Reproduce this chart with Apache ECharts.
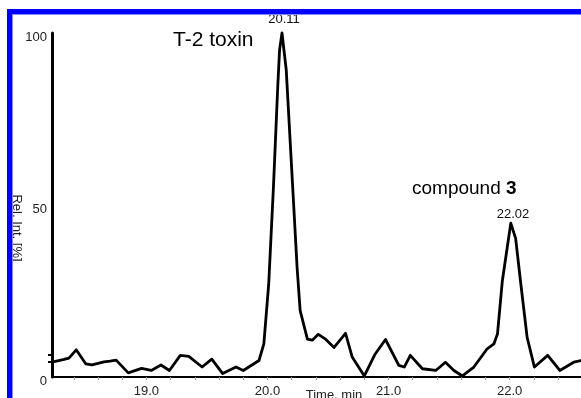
<!DOCTYPE html>
<html>
<head>
<meta charset="utf-8">
<script src="https://cdn.jsdelivr.net/npm/echarts@6/dist/echarts.min.js"></script>
<style>
html,body{margin:0;padding:0;background:#fff;}
#chart{width:581px;height:398px;}
</style>
</head>
<body>
<div id="chart"></div>
<script>
// Retention time (min)
var times = [18.22, 18.32, 18.36, 18.42, 18.50, 18.55, 18.65, 18.70, 18.75, 18.85,
  18.96, 19.04, 19.12, 19.19, 19.28, 19.35, 19.46, 19.54, 19.63, 19.74,
  19.80, 19.93, 19.97, 20.01, 20.05, 20.085, 20.10, 20.12, 20.155, 20.20,
  20.245, 20.27, 20.33, 20.37, 20.42, 20.48, 20.55, 20.645, 20.70, 20.80,
  20.89, 20.975, 21.085, 21.13, 21.18, 21.28, 21.39, 21.47, 21.54, 21.61,
  21.705, 21.815, 21.87, 21.90, 21.94, 21.98, 22.01, 22.05, 22.09, 22.145,
  22.205, 22.315, 22.415, 22.53, 22.59];
// Relative intensity (%)
var intensity = [4.3, 5.1, 5.5, 7.9, 3.8, 3.5, 4.4, 4.6, 4.9, 1.2,
  2.5, 1.9, 3.5, 1.9, 6.3, 6.0, 2.9, 5.2, 1.0, 2.9,
  1.9, 4.8, 9.6, 26.9, 55.7, 84.5, 95.1, 100, 89.3, 60.5,
  31.7, 19.3, 11.0, 10.7, 12.4, 11.0, 8.6, 12.7, 5.8, 0.3,
  6.7, 10.9, 3.4, 2.9, 6.3, 2.4, 1.9, 4.3, 1.9, 0.3,
  2.9, 8.2, 9.6, 12.5, 27.9, 37.5, 44.7, 40.3, 27.9, 11.5,
  2.9, 6.3, 1.9, 4.3, 4.8];
var xLabelValues = [19, 20, 21, 22];
var xTickValues = [18.4, 18.6, 18.8, 19.0, 19.2, 19.4, 19.6, 19.8, 20.0, 20.2, 20.4, 20.6, 20.8, 21.0, 21.2, 21.4, 21.6, 21.8, 22.0, 22.2, 22.4];
var yLabelValues = [0, 50, 100];
var yTickValues = [4.5, 6.6];
var peakLabels = ['20.11', '22.02'];
var compoundNames = ['T-2 toxin', 'compound ', '3'];

var chart = echarts.init(document.getElementById('chart'), null, {renderer: 'canvas'});
var FONT = '"Liberation Sans", Arial, sans-serif';

var option = {
  animation: false,
  backgroundColor: '#fff',
  grid: {left: 52, right: 0, top: 33, bottom: 18, containLabel: false},
  xAxis: {
    type: 'value', min: 18.22, max: 22.59,
    splitLine: {show: false},
    axisLine: {show: true, onZero: false, lineStyle: {color: '#000', width: 2}},
    axisTick: {show: true, inside: false, length: 3, customValues: xTickValues, lineStyle: {color: '#999', width: 1}},
    axisLabel: {customValues: xLabelValues, margin: 8, color: '#222', fontSize: 13, fontFamily: FONT,
      formatter: function (v) { return v.toFixed(1); }}
  },
  yAxis: {
    type: 'value', min: 0, max: 100,
    splitLine: {show: false},
    axisLine: {show: true, onZero: false, lineStyle: {color: '#000', width: 3}},
    axisTick: {show: true, length: 4, customValues: yTickValues, lineStyle: {color: '#000', width: 2}},
    axisLabel: {customValues: yLabelValues, margin: 5, color: '#222', fontSize: 13, fontFamily: FONT,
      verticalAlign: 'top', lineHeight: 8}
  },
  series: [{
    type: 'line',
    data: times.map(function (t, i) { return [t, intensity[i]]; }),
    showSymbol: false,
    clip: false,
    lineStyle: {color: '#000', width: 2.8, join: 'round', cap: 'round'},
    z: 3
  }],
  graphic: [
    {type: 'text', left: 173, top: 30, style: {text: compoundNames[0], font: '21px ' + FONT, fill: '#000'}},
    {type: 'text', left: 412, top: 179, style: {rich: {n: {fontSize: 19, fontFamily: FONT}, b: {fontSize: 19, fontFamily: FONT, fontWeight: 'bold'}},
      text: '{n|' + compoundNames[1] + '}{b|' + compoundNames[2] + '}', fill: '#000'}},
    {type: 'text', x: 284, y: 19, style: {text: peakLabels[0], font: '13px ' + FONT, fill: '#111', align: 'center', verticalAlign: 'middle'}},
    {type: 'text', x: 513, y: 214, style: {text: peakLabels[1], font: '13px ' + FONT, fill: '#111', align: 'center', verticalAlign: 'middle'}},
    {type: 'text', x: 16.5, y: 228, rotation: -Math.PI / 2, style: {text: 'Rel. Int. [%]', font: '13px ' + FONT, fill: '#222', align: 'center', verticalAlign: 'middle'}},
    {type: 'text', x: 334, y: 395, style: {text: 'Time, min', font: '13px ' + FONT, fill: '#222', align: 'center', verticalAlign: 'middle'}},
    {type: 'rect', z: 100, shape: {x: 7, y: 9, width: 5, height: 389}, style: {fill: '#0000ff'}},
    {type: 'rect', z: 100, shape: {x: 7, y: 9, width: 574, height: 5}, style: {fill: '#0000ff'}},
    {type: 'rect', z: 99, shape: {x: 12, y: 14, width: 569, height: 1}, style: {fill: '#8888ff'}},
    {type: 'rect', z: 99, shape: {x: 12, y: 14, width: 1, height: 384}, style: {fill: '#8888ff'}}
  ]
};
chart.setOption(option);
</script>
</body>
</html>
